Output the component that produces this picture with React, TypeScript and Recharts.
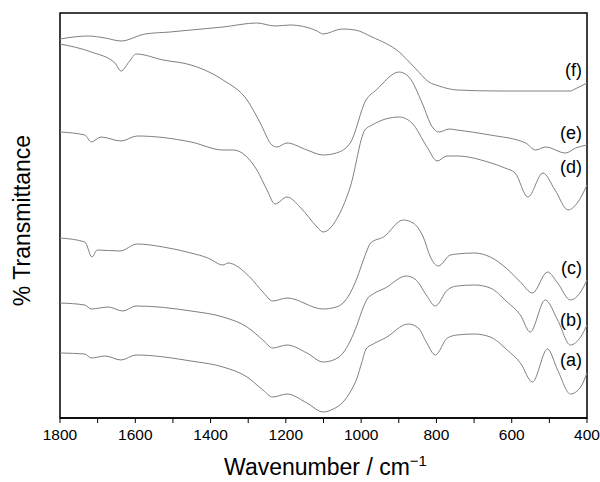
import React from 'react';
import {
  LineChart, Line, XAxis, YAxis, ReferenceArea, ReferenceDot, Label
} from 'recharts';

// wavenumber (cm-1) and transmittance (arbitrary offset units) for each spectrum
const waveA = [1800, 1734, 1717, 1680, 1638, 1598, 1452, 1367, 1303, 1261, 1235, 1197, 1144, 1101, 1074, 1048, 1029, 1011, 998, 987, 968, 936, 875, 848, 827, 803, 771, 745, 699, 657, 612, 577, 545, 505, 478, 444, 417, 400];
const transA = [65, 64, 60, 62, 58, 63, 57, 51, 41, 28, 21, 24, 15, 6, 9, 16, 26, 40, 56, 69, 74, 80, 94, 90, 76, 63, 80, 83, 84, 81, 68, 55, 36, 69, 48, 24, 31, 45];

const waveB = [1800, 1734, 1717, 1672, 1633, 1598, 1452, 1367, 1303, 1261, 1235, 1197, 1144, 1101, 1074, 1048, 1029, 1011, 995, 984, 968, 936, 880, 854, 827, 803, 771, 745, 699, 657, 612, 577, 551, 511, 478, 444, 417, 400];
const transB = [115, 113, 109, 111, 107, 112, 107, 101, 91, 78, 70, 73, 65, 56, 58, 65, 77, 93, 110, 119, 124, 130, 142, 138, 123, 112, 128, 132, 133, 130, 116, 103, 86, 118, 98, 73, 81, 93];

const waveC = [1800, 1734, 1715, 1701, 1641, 1595, 1526, 1452, 1407, 1367, 1354, 1296, 1261, 1235, 1197, 1101, 1066, 1048, 1029, 1011, 994, 984, 975, 941, 888, 862, 835, 816, 795, 763, 745, 699, 657, 612, 577, 545, 505, 478, 444, 417, 400];
const transC = [180, 176, 161, 168, 167, 174, 171, 165, 160, 153, 155, 141, 126, 117, 120, 109, 111, 115, 125, 140, 158, 168, 175, 181, 198, 195, 181, 161, 152, 163, 164, 165, 161, 149, 136, 125, 146, 135, 118, 126, 138];

const waveD = [1800, 1734, 1717, 1691, 1638, 1595, 1452, 1367, 1340, 1277, 1250, 1229, 1197, 1160, 1117, 1101, 1059, 1029, 990, 971, 899, 865, 825, 798, 772, 745, 663, 618, 591, 557, 517, 485, 450, 426, 400];
const transD = [286, 283, 276, 281, 277, 282, 276, 268, 268, 248, 228, 214, 221, 210, 191, 186, 203, 231, 288, 293, 301, 295, 271, 257, 262, 262, 256, 250, 245, 221, 245, 228, 208, 215, 233];

const waveE = [1800, 1717, 1654, 1638, 1615, 1598, 1526, 1452, 1367, 1303, 1268, 1237, 1224, 1197, 1144, 1101, 1066, 1029, 987, 960, 899, 873, 838, 811, 793, 766, 745, 657, 563, 537, 510, 457, 430, 400];
const transE = [374, 366, 355, 347, 357, 364, 358, 353, 338, 318, 295, 273, 271, 275, 268, 263, 265, 275, 318, 328, 346, 341, 315, 291, 286, 289, 288, 283, 275, 268, 271, 265, 270, 273];

const waveF = [1800, 1726, 1680, 1638, 1574, 1508, 1452, 1367, 1277, 1229, 1189, 1117, 1101, 1051, 1016, 971, 899, 857, 820, 793, 745, 631, 445, 432, 400];
const transF = [379, 382, 380, 377, 384, 386, 388, 391, 395, 392, 393, 387, 384, 389, 388, 381, 366, 350, 336, 332, 328, 327, 327, 329, 335];

const seriesNames = ['(a)', '(b)', '(c)', '(d)', '(e)', '(f)'];
const xTicks = [1800, 1700, 1600, 1500, 1400, 1300, 1200, 1100, 1000, 900, 800, 700, 600, 500, 400];

const allWaves = [waveA, waveB, waveC, waveD, waveE, waveF];
const allTrans = [transA, transB, transC, transD, transE, transF];
// where each (a)...(f) tag sits, in the same units as the curves
const tagLevels = [58, 98, 150, 251, 285, 348];

const font = '"Liberation Sans", Arial, sans-serif';

const toPoints = (w: number[], t: number[]) => w.map((x, i) => ({ wn: x, t: t[i] }));

const YTitle = (props: any) => {
  const vb = props.viewBox;
  const cx = vb.x + 22;
  const cy = vb.y + vb.height / 2 + 5;
  return (
    <text x={cx} y={cy} transform={`rotate(-90 ${cx} ${cy})`} textAnchor="middle"
      dominantBaseline="central" fontFamily={font} fontSize={23} fill="#000">
      % Transmittance
    </text>
  );
};

const XTitle = (props: any) => {
  const vb = props.viewBox;
  const cx = vb.x + vb.width / 2 + 2;
  return (
    <text x={cx} y={vb.y + 57} textAnchor="middle" fontFamily={font} fontSize={23} fill="#000">
      <tspan>Wavenumber / cm</tspan>
      <tspan dy={-9} fontSize={15}>{'\u2212'}1</tspan>
    </text>
  );
};

export default function App() {
  return (
    <div style={{ position: 'absolute', left: 0, top: 0, background: '#fff' }}>
      <LineChart width={600} height={482} margin={{ top: 13, right: 13, bottom: 0, left: 0 }}>
        <XAxis
          dataKey="wn"
          type="number"
          domain={[400, 1800]}
          reversed
          ticks={xTicks}
          interval={0}
          tickFormatter={(v: number) => (v % 200 === 0 ? String(v) : '')}
          tick={{ fontFamily: font, fontSize: 15.5, fill: '#000' }}
          tickSize={5}
          tickMargin={6}
          tickLine={{ stroke: '#000' }}
          axisLine={{ stroke: '#000', strokeWidth: 1.5 }}
          height={64}
        >
          <Label content={XTitle} />
        </XAxis>
        <YAxis
          type="number"
          domain={[0, 405]}
          width={60}
          tick={false}
          tickLine={false}
          axisLine={false}
        >
          <Label content={YTitle} />
        </YAxis>
        <ReferenceArea x1={1800} x2={400} y1={0} y2={405} fill="none" stroke="#000" strokeWidth={1.5} />
        {allWaves.map((w, i) => (
          <Line
            key={seriesNames[i]}
            data={toPoints(w, allTrans[i])}
            dataKey="t"
            type="monotone"
            stroke="#808080"
            strokeWidth={1}
            dot={false}
            isAnimationActive={false}
          />
        ))}
        {seriesNames.map((n, i) => (
          <ReferenceDot
            key={'tag' + n}
            x={400}
            y={tagLevels[i]}
            r={1}
            fill="none"
            stroke="none"
            label={{ value: n, position: 'left', offset: 4, fontFamily: font, fontSize: 18, fill: '#000' }}
          />
        ))}
      </LineChart>
    </div>
  );
}
